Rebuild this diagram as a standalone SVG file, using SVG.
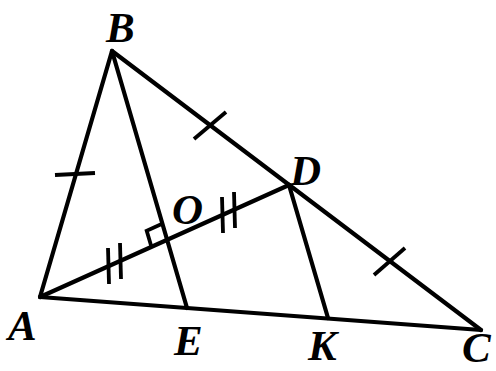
<svg xmlns="http://www.w3.org/2000/svg" width="496" height="371" viewBox="0 0 496 371">
<style>
.l{stroke:#000;stroke-width:4.2;stroke-linecap:round;fill:none}
.t{stroke:#000;stroke-width:3.8;stroke-linecap:butt;fill:none}
.lb{font-family:"Liberation Serif",serif;font-style:italic;font-weight:bold;font-size:43px;fill:#000}
</style>
<rect width="496" height="371" fill="#fff"/>
<g id="connectors">
<line class="l" x1="40" y1="297" x2="112" y2="51"/>
<line class="l" x1="112" y1="51" x2="481" y2="330"/>
<line class="l" x1="40" y1="297" x2="481" y2="330"/>
<line class="l" x1="112" y1="51" x2="187" y2="308"/>
<line class="l" x1="40" y1="297" x2="289" y2="185"/>
<line class="l" x1="289" y1="185" x2="328" y2="318"/>
</g>
<g id="marks">
<line class="t" x1="55" y1="175" x2="95" y2="173"/>
<line class="t" x1="194" y1="139" x2="226" y2="112"/>
<line class="t" x1="374" y1="275" x2="405" y2="248"/>
<line class="t" x1="108" y1="248" x2="109" y2="284"/>
<line class="t" x1="120" y1="243" x2="121" y2="279"/>
<line class="t" x1="222" y1="197" x2="223" y2="233"/>
<line class="t" x1="234" y1="192" x2="235" y2="228"/>
<polyline class="t" points="162.2,223.7 146.7,230.7 151.5,247"/>
</g>
<g id="A"><text class="lb" x="8" y="340">A</text></g>
<g id="B"><text class="lb" x="106" y="42">B</text></g>
<g id="C"><text class="lb" x="462" y="362">C</text></g>
<g id="D"><text class="lb" x="290" y="185">D</text></g>
<g id="E"><text class="lb" x="174" y="355">E</text></g>
<g id="K"><text class="lb" x="308" y="360">K</text></g>
<g id="O"><text class="lb" x="172" y="224">O</text></g>
</svg>
